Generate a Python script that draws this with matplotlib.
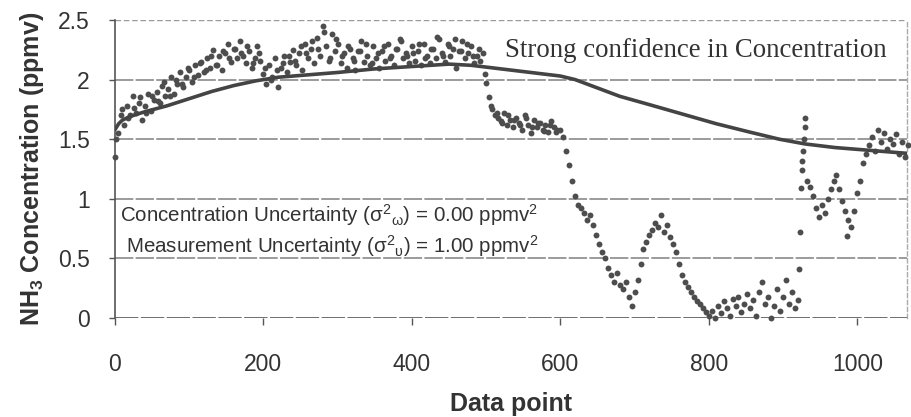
import numpy as np
import matplotlib.pyplot as plt

plt.rcParams['font.family'] = ['Liberation Sans', 'DejaVu Sans']
plt.rcParams['mathtext.fontset'] = 'custom'
plt.rcParams['mathtext.rm'] = 'Liberation Sans'
plt.rcParams['mathtext.it'] = 'Liberation Sans:italic'
plt.rcParams['mathtext.bf'] = 'Liberation Sans:bold'

# Measured NH3 points, every 4th data point (0 .. 920)
meas_a = [
    1.35, 1.55, 1.70, 1.62, 1.78, 1.70, 1.86, 1.72, 1.80, 1.66, 1.78, 1.88, 1.74, 1.83, 1.90, 1.80, 1.95, 1.86, 1.92, 2.02, 1.88, 1.96, 2.06, 1.94, 2.02,
    2.08, 1.98, 2.12, 2.04, 2.15, 2.06, 2.18, 2.10, 2.25, 2.12, 2.20, 2.08, 2.22, 2.30, 2.15, 2.26, 2.18, 2.32, 2.20, 2.14, 2.24, 2.10, 2.18, 2.28, 2.16,
    2.05, 1.96, 2.12, 2.02, 2.18, 1.94, 2.10, 2.20, 2.06, 2.15, 2.25, 2.12, 2.22, 2.08, 2.30, 2.18, 2.26, 2.14, 2.35, 2.20, 2.45, 2.28, 2.16, 2.38, 2.24,
    2.30, 2.14, 2.22, 2.10, 2.26, 2.18, 2.08, 2.24, 2.32, 2.15, 2.20, 2.12, 2.28, 2.18, 2.10, 2.24, 2.16, 2.30, 2.20, 2.12, 2.26, 2.34, 2.18, 2.22, 2.14,
    2.28, 2.16, 2.24, 2.12, 2.30, 2.20, 2.14, 2.26, 2.18, 2.34, 2.22, 2.15, 2.30, 2.20, 2.26, 2.10, 2.24, 2.32, 2.18, 2.22, 2.28, 2.14, 2.20, 2.16, 2.22,
    1.97, 1.85, 1.75, 1.70, 1.68, 1.65, 1.72, 1.62, 1.66, 1.60, 1.68, 1.64, 1.58, 1.70, 1.62, 1.55, 1.66, 1.60, 1.64, 1.58, 1.62, 1.56, 1.65, 1.60, 1.58,
    1.58, 1.52, 1.40, 1.28, 1.15, 1.02, 0.95, 0.92, 0.88, 0.82, 0.86, 0.78, 0.70, 0.62, 0.55, 0.50, 0.42, 0.36, 0.30, 0.38, 0.28, 0.24, 0.30, 0.18, 0.10,
    0.22, 0.32, 0.45, 0.58, 0.64, 0.70, 0.74, 0.80, 0.76, 0.86, 0.72, 0.78, 0.68, 0.62, 0.55, 0.45, 0.36, 0.30, 0.26, 0.22, 0.18, 0.14, 0.12, 0.08, 0.05,
    0.02, 0.06, 0.00, 0.10, 0.04, 0.14, 0.08, 0.02, 0.16, 0.10, 0.18, 0.05, 0.12, 0.20, 0.08, 0.15, 0.02, 0.22, 0.30, 0.12, 0.18, 0.00, 0.10, 0.24, 0.06,
    0.18, 0.32, 0.12, 0.22, 0.08, 0.15,
]
# extra points in between (x = 2, 10, 18, ... 594)
meas_b = [
    1.50, 1.75, 1.68, 1.76, 1.85, 1.72, 1.86, 1.82, 1.98, 1.86, 2.00, 1.96, 2.10,
    2.02, 2.14, 2.08, 2.20, 2.12, 2.24, 2.18, 2.26, 2.22, 2.28, 2.14, 2.22,
    2.10, 2.00, 2.08, 2.14, 2.20, 2.16, 2.28, 2.22, 2.32, 2.26, 2.40, 2.18, 2.34,
    2.20, 2.28, 2.16, 2.24, 2.30, 2.14, 2.22, 2.28, 2.18, 2.26, 2.32, 2.20,
    2.22, 2.30, 2.18, 2.26, 2.36, 2.20, 2.28, 2.34, 2.24, 2.30, 2.20, 2.26, 2.05,
    1.78, 1.72, 1.64, 1.70, 1.66, 1.62, 1.68, 1.60, 1.64, 1.57, 1.62, 1.56,
]
# jump near data point 925, plus a stray low point
jump_x = [922, 923, 924, 925, 926, 927, 928, 929, 930, 986]
jump_y = [0.41, 0.72, 1.09, 1.24, 1.32, 1.40, 1.50, 1.60, 1.68, 0.69]
# last stretch, every 4th data point (932 .. 1068)
meas_c = [
    1.15, 1.10, 1.02, 0.92, 0.85, 0.95, 0.88, 1.00, 1.08, 1.15,
    1.20, 1.08, 0.98, 0.90, 0.82, 0.76, 0.90, 1.05, 1.15, 1.30,
    1.38, 1.45, 1.52, 1.40, 1.58, 1.48, 1.55, 1.42, 1.50, 1.46,
    1.54, 1.38, 1.48, 1.35, 1.45,
]

# filtered concentration estimate
line_x = [0, 5, 10, 20, 40, 70, 100, 130, 160, 190, 220, 260, 300, 350, 400, 450, 480, 520,
          560, 600, 620, 650, 680, 720, 765, 810, 855, 895, 930, 970, 1010, 1070]
line_y = [1.58, 1.63, 1.66, 1.69, 1.73, 1.78, 1.84, 1.90, 1.95, 1.99, 2.02, 2.04, 2.06, 2.09, 2.11, 2.13, 2.12, 2.09,
          2.06, 2.03, 2.00, 1.93, 1.86, 1.79, 1.71, 1.63, 1.56, 1.50, 1.46, 1.43, 1.41, 1.38]

xa = np.arange(len(meas_a)) * 4
xb = np.arange(len(meas_b)) * 8 + 2
xc = np.arange(len(meas_c)) * 4 + 932

fig = plt.figure(figsize=(9.11, 4.17), dpi=100)
ax = fig.add_axes([0.1262, 0.2374, 0.8694, 0.7146])

ink = '#4d4d4d'
for yv in [0.5, 1.0, 1.5, 2.0]:
    ax.axhline(yv, color='#808080', lw=1.1, ls=(0, (12, 1.5)), zorder=1)
ax.axhline(2.5, color='#9a9a9a', lw=1.0, ls=(0, (4, 2)), zorder=1)
ax.axhline(0, color='#555555', lw=1.2, ls=(0, (14, 1.5)), zorder=1)

dot = dict(s=18, color=ink, linewidths=0, zorder=3, clip_on=False)
ax.scatter(xa, meas_a, **dot)
ax.scatter(xb, meas_b, **dot)
ax.scatter(jump_x, jump_y, **dot)
ax.scatter(xc, meas_c, **dot)
ax.plot(line_x, line_y, color='#444444', lw=2.6, zorder=4, solid_capstyle='round', solid_joinstyle='round')

ax.set_xlim(0, 1067)
ax.set_ylim(0, 2.5)
ax.set_xticks([0, 200, 400, 600, 800, 1000])
ax.set_yticks([0, 0.5, 1, 1.5, 2, 2.5])
ax.set_yticklabels(['0', '0.5', '1', '1.5', '2', '2.5'])
ax.tick_params(axis='x', direction='out', length=5, width=1, pad=20, labelsize=16.5, colors='#555555', labelcolor='#333333')
ax.tick_params(axis='y', direction='out', length=4, width=1, pad=14, labelsize=16.5, colors='#555555', labelcolor='#333333')

for side in ['top', 'bottom']:
    ax.spines[side].set_visible(False)
ax.spines['left'].set_color('#555555')
ax.spines['left'].set_linewidth(1.2)
ax.spines['right'].set_color('#aaaaaa')
ax.spines['right'].set_linestyle((0, (3, 2)))
ax.spines['right'].set_linewidth(1.0)

ax.set_xlabel('Data point', fontsize=18, fontweight='bold', color='#333333', labelpad=12)
ax.set_ylabel(r'NH$_\mathbf{3}$ Concentration (ppmv)', fontsize=18, fontweight='bold', color='#333333', labelpad=9)

ax.text(526, 2.245, 'Strong confidence in Concentration', family='Liberation Serif',
        fontsize=19.3, color='#333333', va='center', ha='left', zorder=5)
ax.text(288, 0.86, r'Concentration Uncertainty ($\mathrm{\sigma}^2$$_\mathrm{\omega}$) = 0.00 ppmv$^2$',
        fontsize=14.8, color='#333333', ha='center', va='center', zorder=5)
ax.text(293, 0.60, r'Measurement Uncertainty ($\mathrm{\sigma}^2$$_\mathrm{\upsilon}$) = 1.00 ppmv$^2$',
        fontsize=14.8, color='#333333', ha='center', va='center', zorder=5)

fig.savefig('out.png', dpi=100)
